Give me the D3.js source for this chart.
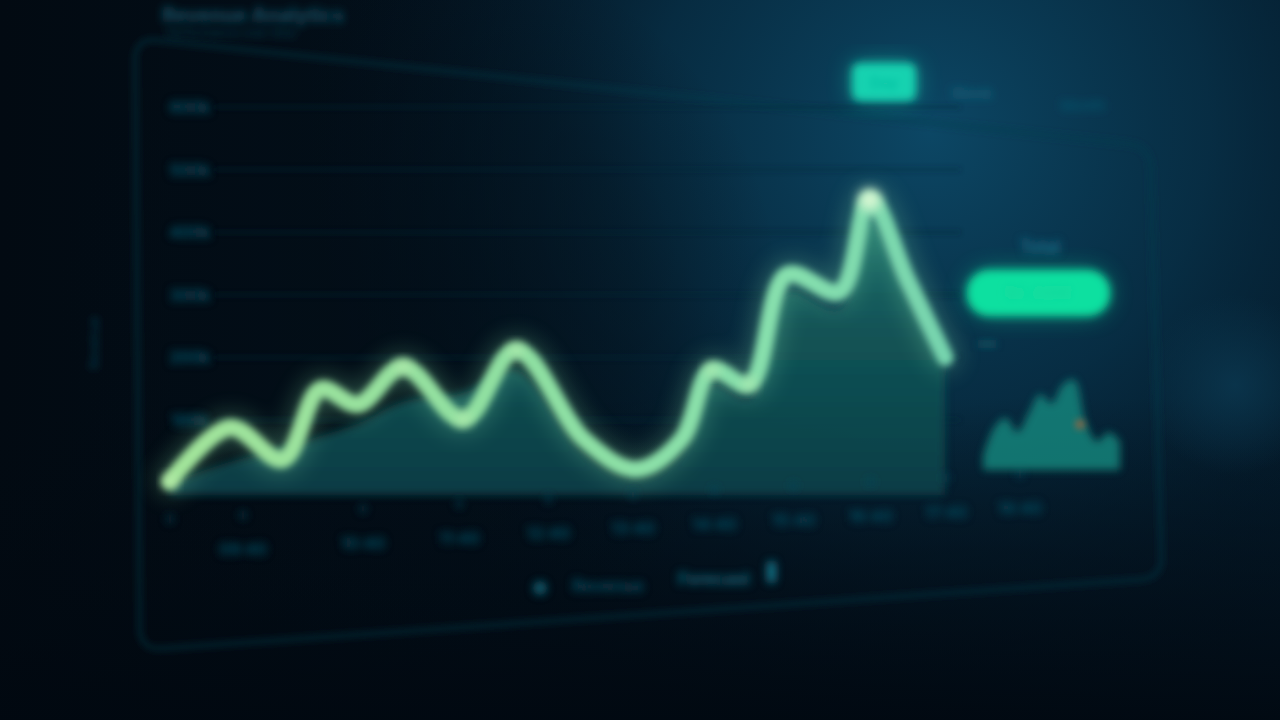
<!DOCTYPE html>
<html>
<head>
<meta charset="utf-8">
<script src="https://cdn.jsdelivr.net/npm/d3@7"></script>
<style>
  html, body { margin: 0; padding: 0; background: #020b14; overflow: hidden; }
  svg { display: block; }
  text { font-family: "Inter", "Noto Sans", sans-serif; }
</style>
</head>
<body>
<svg id="chart" width="1280" height="720"></svg>
<script>
// ---------------- DATA ----------------
const xDays       = [0, 8, 15, 20, 25, 31, 39, 46, 55, 62, 68, 72, 77, 82, 89, 93, 98, 103];
const lineValues  = [2, 88, 37, 149, 125, 185, 101, 212, 69, 21, 69, 180, 157, 332, 305, 452, 324, 200];
const areaValues  = [0, 33, 55, 74, 94, 129, 143, 180, 49, 7, 49, 156, 135, 304, 278, 419, 300, 183];
const yTicks      = [100, 200, 300, 400, 500, 600];
const yTickLabels = ["100k", "200k", "300k", "400k", "500k", "600k"];
const xLabels     = ["09:40", "10:40", "11:40", "12:40", "13:40", "14:40", "15:40", "16:40", "17:40", "18:40"];
const miniValues  = [15, 45, 55, 40, 60, 80, 70, 90, 95, 50, 30, 40, 30];
const tabLabels   = ["Day", "Week", "Month"];
const legendLabels = ["Revenue", "Forecast"];
const highlightIdx = [0, 5, 6, 7, 11, 12, 15];

// ---------------- SETUP ----------------
const svg = d3.select("#chart");
const defs = svg.append("defs");

function blurFilter(id, sd) {
  const f = defs.append("filter").attr("id", id)
    .attr("x", "-50%").attr("y", "-50%").attr("width", "200%").attr("height", "200%");
  f.append("feGaussianBlur").attr("stdDeviation", sd);
}
blurFilter("b2", 2.6);
blurFilter("b3", 3.5);
blurFilter("b4", 4.2);
blurFilter("b6", 6);
blurFilter("b12", 12);

function radial(id, cx, cy, rad, stops) {
  const g = defs.append("radialGradient").attr("id", id)
    .attr("gradientUnits", "userSpaceOnUse").attr("cx", cx).attr("cy", cy).attr("r", rad);
  stops.forEach(s => g.append("stop").attr("offset", s[0]).attr("stop-color", s[1]).attr("stop-opacity", s[2]));
}

// background gradients
const bgLin = defs.append("linearGradient").attr("id", "bgLin").attr("x1", 0).attr("y1", 0).attr("x2", 1).attr("y2", 0);
bgLin.append("stop").attr("offset", 0).attr("stop-color", "#020a12");
bgLin.append("stop").attr("offset", 0.55).attr("stop-color", "#03121e");
bgLin.append("stop").attr("offset", 1).attr("stop-color", "#041a2a");

radial("bgRad", 930, 130, 620, [[0, "#0c4765", 1], [0.45, "#08324a", 0.8], [1, "#041828", 0]]);
radial("darkL", 420, 300, 360, [[0, "#020d16", 0.6], [0.6, "#020d16", 0.35], [1, "#020d16", 0]]);
radial("glowR", 1235, 385, 90, [[0, "#0b3850", 0.8], [1, "#0b3850", 0]]);

const bgBottom = defs.append("linearGradient").attr("id", "bgBottom").attr("x1", 0).attr("y1", 0).attr("x2", 0).attr("y2", 1);
bgBottom.append("stop").attr("offset", 0.55).attr("stop-color", "#020a12").attr("stop-opacity", 0);
bgBottom.append("stop").attr("offset", 1).attr("stop-color", "#010810").attr("stop-opacity", 0.9);

svg.append("rect").attr("width", 1280).attr("height", 720).attr("fill", "url(#bgLin)");
svg.append("rect").attr("width", 1280).attr("height", 720).attr("fill", "url(#bgRad)");
svg.append("rect").attr("width", 1280).attr("height", 720).attr("fill", "url(#bgBottom)");
svg.append("rect").attr("width", 1280).attr("height", 720).attr("fill", "url(#darkL)");
svg.append("rect").attr("width", 1280).attr("height", 720).attr("fill", "url(#glowR)");

// ---------------- SCALES ----------------
const x = d3.scaleLinear().domain([0, 103]).range([170, 945]);
const y = d3.scaleLinear().domain([0, 600]).range([482.6, 107]);

// ---------------- PANEL FRAME ----------------
const framePts = [[135, 38], [1150, 146], [1162, 578], [140, 650]];
const r = 22;
function roundedQuad(p) {
  let d = "";
  const n = p.length;
  for (let i = 0; i < n; i++) {
    const prev = p[(i - 1 + n) % n], cur = p[i], next = p[(i + 1) % n];
    const v1 = [prev[0] - cur[0], prev[1] - cur[1]], l1 = Math.hypot(...v1);
    const v2 = [next[0] - cur[0], next[1] - cur[1]], l2 = Math.hypot(...v2);
    const a = [cur[0] + v1[0] / l1 * r, cur[1] + v1[1] / l1 * r];
    const b = [cur[0] + v2[0] / l2 * r, cur[1] + v2[1] / l2 * r];
    d += (i === 0 ? "M" : "L") + a[0] + "," + a[1] + " Q" + cur[0] + "," + cur[1] + " " + b[0] + "," + b[1] + " ";
  }
  return d + "Z";
}
svg.append("path").attr("d", roundedQuad(framePts))
  .attr("fill", "none")
  .attr("stroke", "#0c3b4d").attr("stroke-width", 4).attr("stroke-opacity", 0.6)
  .attr("filter", "url(#b3)");

// ---------------- TITLE ----------------
const titleG = svg.append("g").attr("filter", "url(#b4)");
titleG.append("text").attr("x", 162).attr("y", 22).attr("font-size", 20).attr("font-weight", 700)
  .attr("fill", "#125268").text("Revenue Analytics");
titleG.append("text").attr("x", 166).attr("y", 37).attr("font-size", 12)
  .attr("fill", "#0d4052").text("Performance over time");

// Y axis title
svg.append("text").attr("transform", "translate(99,343) rotate(-90)")
  .attr("text-anchor", "middle").attr("font-size", 13).attr("fill", "#0d3d50")
  .attr("filter", "url(#b3)").text("Revenue");

// ---------------- TABS ----------------
const tabsG = svg.append("g");
tabsG.append("rect").attr("x", 852).attr("y", 63).attr("width", 64).attr("height", 38).attr("rx", 8)
  .attr("fill", "#13d6b2").attr("opacity", 0.5).attr("filter", "url(#b12)");
tabsG.append("rect").attr("x", 852).attr("y", 63).attr("width", 64).attr("height", 38).attr("rx", 8)
  .attr("fill", "#12d2b0").attr("filter", "url(#b4)");
tabsG.append("text").attr("x", 884).attr("y", 88).attr("text-anchor", "middle").attr("font-size", 15)
  .attr("font-weight", 600).attr("fill", "#0fc0a2").attr("filter", "url(#b3)").text(tabLabels[0]);
tabsG.append("text").attr("x", 972).attr("y", 99).attr("text-anchor", "middle").attr("font-size", 16)
  .attr("fill", "#176b82").attr("filter", "url(#b4)").text(tabLabels[1]);
tabsG.append("text").attr("x", 1083).attr("y", 111).attr("text-anchor", "middle").attr("font-size", 15)
  .attr("fill", "#125a72").attr("filter", "url(#b4)").text(tabLabels[2]);

// ---------------- GRID & Y AXIS ----------------
const gridG = svg.append("g").attr("filter", "url(#b2)");
gridG.selectAll("line.grid").data(yTicks).join("line")
  .attr("x1", 215).attr("x2", 960)
  .attr("y1", d => y(d)).attr("y2", d => y(d))
  .attr("stroke", "#0a2a3a").attr("stroke-width", 2).attr("opacity", 0.7);

const yAxisG = svg.append("g").attr("filter", "url(#b4)");
yAxisG.selectAll("text").data(yTicks).join("text")
  .attr("x", 190).attr("y", d => y(d) + 6)
  .attr("text-anchor", "middle").attr("font-size", 16).attr("font-weight", 700)
  .attr("fill", "#105166").text((d, i) => yTickLabels[i]);

// ---------------- AREA ----------------
const areaGrad = defs.append("linearGradient").attr("id", "areaGrad")
  .attr("gradientUnits", "userSpaceOnUse").attr("x1", 0).attr("y1", 200).attr("x2", 0).attr("y2", 500);
areaGrad.append("stop").attr("offset", 0).attr("stop-color", "#1a6e6a");
areaGrad.append("stop").attr("offset", 0.5).attr("stop-color", "#125456");
areaGrad.append("stop").attr("offset", 1).attr("stop-color", "#0d3f48");

const area = d3.area()
  .x((d, i) => x(xDays[i]))
  .y0(y(-20))
  .y1(d => y(d))
  .curve(d3.curveCatmullRom.alpha(0.5));
svg.append("path").datum(areaValues).attr("d", area)
  .attr("fill", "url(#areaGrad)").attr("opacity", 0.95).attr("filter", "url(#b4)");

// ---------------- LINE ----------------
const lineGrad = defs.append("linearGradient").attr("id", "lineGrad")
  .attr("gradientUnits", "userSpaceOnUse").attr("x1", 170).attr("y1", 0).attr("x2", 950).attr("y2", 0);
lineGrad.append("stop").attr("offset", 0).attr("stop-color", "#a2e49a");
lineGrad.append("stop").attr("offset", 0.45).attr("stop-color", "#8fe0a2");
lineGrad.append("stop").attr("offset", 0.8).attr("stop-color", "#86e0ae");
lineGrad.append("stop").attr("offset", 1).attr("stop-color", "#76d4ae");

const line = d3.line()
  .x((d, i) => x(xDays[i]))
  .y(d => y(d))
  .curve(d3.curveCatmullRom.alpha(0.5));

svg.append("path").datum(lineValues).attr("d", line)
  .attr("fill", "none").attr("stroke", "#7fdca6").attr("stroke-width", 28)
  .attr("stroke-linecap", "round").attr("stroke-linejoin", "round")
  .attr("opacity", 0.3).attr("filter", "url(#b12)");
svg.append("path").datum(lineValues).attr("d", line)
  .attr("fill", "none").attr("stroke", "url(#lineGrad)").attr("stroke-width", 17)
  .attr("stroke-linecap", "round").attr("stroke-linejoin", "round")
  .attr("filter", "url(#b3)");

// highlights
svg.append("g").selectAll("circle").data(highlightIdx).join("circle")
  .attr("cx", i => x(xDays[i])).attr("cy", i => y(lineValues[i]))
  .attr("r", i => i === 15 ? 11 : 7)
  .attr("fill", i => i === 15 ? "#e4fbd8" : "#c6f2b6")
  .attr("opacity", i => i === 15 ? 0.9 : 0.6)
  .attr("filter", "url(#b6)");

// ---------------- X AXIS ----------------
const xLab = d3.scalePow().exponent(0.85).domain([0, xLabels.length - 1]).range([243, 1020]);
const xLabY = d3.scaleLinear().domain([243, 1020]).range([549, 508]);
const xAxisG = svg.append("g").attr("filter", "url(#b4)");
xAxisG.selectAll("text").data(xLabels).join("text")
  .attr("x", (d, i) => xLab(i)).attr("y", (d, i) => xLabY(xLab(i)) + 6)
  .attr("text-anchor", "middle").attr("font-size", 16).attr("font-weight", 700)
  .attr("fill", "#0f4b5e").text(d => d);
// small ticks row
const tickPos = [x(0)].concat(xLabels.map((d, i) => xLab(i)));
xAxisG.selectAll("rect.tick").data(tickPos).join("rect")
  .attr("x", d => d - 3).attr("y", d => xLabY(d) - 38).attr("width", 6).attr("height", 8)
  .attr("fill", "#0e4658").attr("opacity", 0.7);

// ---------------- LEGEND ----------------
const legG = svg.append("g").attr("filter", "url(#b4)");
legG.append("circle").attr("cx", 540).attr("cy", 588).attr("r", 7).attr("fill", "#10586a");
legG.append("text").attr("x", 572).attr("y", 592).attr("font-size", 17).attr("font-weight", 700)
  .attr("fill", "#0f4c5f").text(legendLabels[0]);
legG.append("text").attr("x", 678).attr("y", 585).attr("font-size", 17).attr("font-weight", 700)
  .attr("fill", "#13677c").text(legendLabels[1]);
legG.append("rect").attr("x", 767).attr("y", 561).attr("width", 9).attr("height", 22).attr("rx", 4)
  .attr("fill", "#147185");

// ---------------- SIDE PANEL ----------------
const sideG = svg.append("g");
sideG.append("text").attr("x", 1040).attr("y", 253).attr("text-anchor", "middle")
  .attr("font-size", 17).attr("font-weight", 600).attr("fill", "#1b7690").attr("filter", "url(#b4)").text("Total");
sideG.append("rect").attr("x", 967).attr("y", 270).attr("width", 143).attr("height", 46).attr("rx", 22)
  .attr("fill", "#12e3a2").attr("opacity", 0.45).attr("filter", "url(#b12)");
sideG.append("rect").attr("x", 967).attr("y", 270).attr("width", 143).attr("height", 46).attr("rx", 22)
  .attr("fill", "#10e0a0").attr("filter", "url(#b4)");
sideG.append("text").attr("x", 1038).attr("y", 299).attr("text-anchor", "middle")
  .attr("font-size", 18).attr("font-weight", 700).attr("fill", "#16d89c")
  .attr("filter", "url(#b4)").text("$1.24M");
sideG.append("rect").attr("x", 978).attr("y", 340).attr("width", 18).attr("height", 8)
  .attr("fill", "#0e4a5a").attr("filter", "url(#b3)");

const mx = d3.scaleLinear().domain([0, miniValues.length - 1]).range([983, 1120]);
const my = d3.scaleLinear().domain([0, 100]).range([470, 375]);
const miniArea = d3.area().x((d, i) => mx(i)).y0(my(0)).y1(d => my(d)).curve(d3.curveCatmullRom);
sideG.append("path").datum(miniValues).attr("d", miniArea)
  .attr("fill", "#198a80").attr("opacity", 0.8).attr("filter", "url(#b4)");
sideG.append("circle").attr("cx", mx(8.5)).attr("cy", my(48)).attr("r", 5)
  .attr("fill", "#b0643a").attr("opacity", 0.75).attr("filter", "url(#b3)");
</script>
</body>
</html>
